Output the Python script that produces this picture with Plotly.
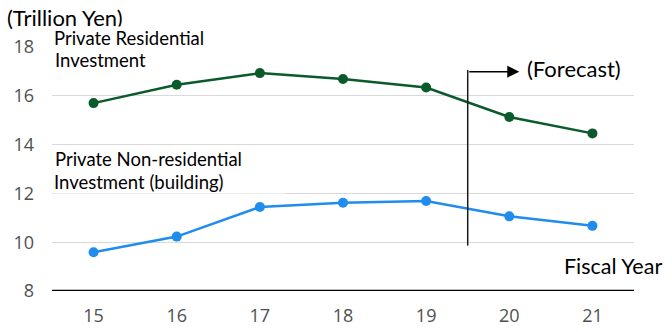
import plotly.graph_objects as go

# Fiscal years (last two digits) and investment values in trillion yen
years = [15, 16, 17, 18, 19, 20, 21]
residential = [15.70, 16.45, 16.93, 16.69, 16.34, 15.13, 14.46]
non_residential = [9.59, 10.23, 11.44, 11.62, 11.69, 11.06, 10.67]
y_ticks = [8, 10, 12, 14, 16, 18]
forecast_start = 19.5

GREEN = "#0a5a2c"
BLUE = "#1f8cee"
LABEL_FONT = "Lato, 'Open Sans', sans-serif"
TICK_FONT = "'Open Sans', 'Noto Sans', sans-serif"
LABEL_SIZE = 18.5

fig = go.Figure()

fig.add_trace(go.Scatter(
    x=years, y=residential, mode="lines+markers",
    line=dict(color=GREEN, width=2.5),
    marker=dict(color=GREEN, size=10),
    cliponaxis=False, showlegend=False,
))
fig.add_trace(go.Scatter(
    x=years, y=non_residential, mode="lines+markers",
    line=dict(color=BLUE, width=2.5),
    marker=dict(color=BLUE, size=10),
    cliponaxis=False, showlegend=False,
))

# Forecast divider with arrow
fig.add_shape(type="line", xref="x", yref="y",
              x0=forecast_start, x1=forecast_start, y0=9.86, y1=17.06,
              line=dict(color="#1a1a1a", width=1.5))
fig.add_annotation(x=20.12, y=16.99, xref="x", yref="y", text="",
                   showarrow=True, ax=forecast_start, ay=16.99,
                   axref="x", ayref="y",
                   arrowhead=2, arrowsize=1.6, arrowwidth=1.5,
                   arrowcolor="#000000")


def text(t, x, y, size, xanchor="left", width=None, mask=False):
    """Free text placed in paper coordinates."""
    kw = dict(width=width, align="left") if width else {}
    if mask:
        kw.update(bgcolor="#ffffff", borderpad=0)
    fig.add_annotation(x=x, y=y, xref="paper", yref="paper", text=t,
                       showarrow=False, xanchor=xanchor, yanchor="middle",
                       font=dict(family=LABEL_FONT, size=size,
                                 color="#000000"), **kw)


text("(Forecast)", 0.8127, 0.910, 22)
text("(Trillion Yen)", -0.0808, 1.119, 22)
# Series labels; white boxes mask the gridlines behind them
text("Private Residential", 0.002, 1.037, LABEL_SIZE, width=188, mask=True)
text("Investment", 0.002, 0.946, LABEL_SIZE)
text("Private Non-residential", 0.002, 0.539, LABEL_SIZE)
text("Investment (building)", 0.002, 0.445, LABEL_SIZE, width=231, mask=True)
text("Fiscal Year", 1.0498, 0.1025, 21.5, xanchor="right", mask=True)

fig.update_xaxes(range=[14.5, 21.5], tickvals=years,
                 ticktext=[str(y) for y in years],
                 showgrid=False, zeroline=False, automargin=False,
                 showline=False, ticks="", ticklabelstandoff=12,
                 tickfont=dict(family=TICK_FONT, size=18, color="#505050"))
fig.update_yaxes(range=[8, 18], tickvals=y_ticks,
                 showgrid=True, gridcolor="#d9d9d9", gridwidth=1,
                 zeroline=False, showline=False, ticks="", automargin=False,
                 ticklabelstandoff=17,
                 tickfont=dict(family=TICK_FONT, size=18, color="#505050"))

# Baseline at the bottom of the value axis
fig.add_shape(type="line", xref="paper", yref="y", x0=0, x1=1, y0=8, y1=8,
              line=dict(color="#000000", width=2.5), layer="above")

fig.update_layout(
    width=672, height=332,
    margin=dict(l=52, r=38, t=47, b=41),
    plot_bgcolor="#ffffff", paper_bgcolor="#ffffff",
)

fig.write_html("out.html")
